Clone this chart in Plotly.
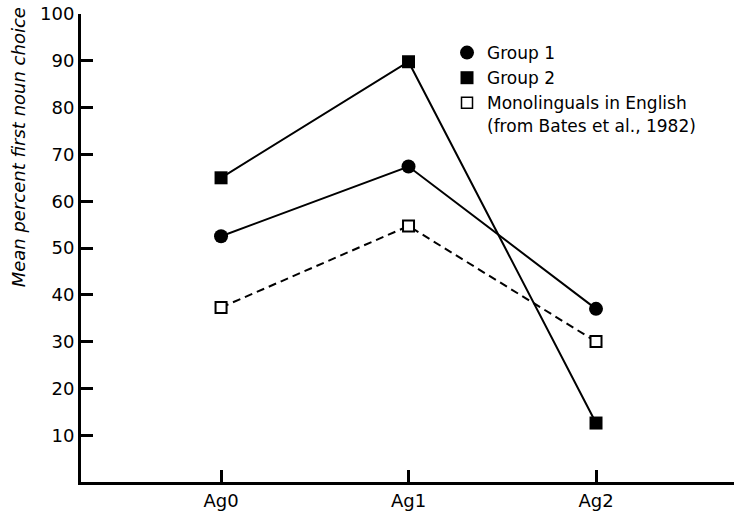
import plotly.graph_objects as go

categories = ["Ag0", "Ag1", "Ag2"]
group1 = [52.5, 67.4, 37.0]
group2 = [65.0, 89.8, 12.6]
mono = [37.3, 54.7, 30.0]
y_ticks = [10, 20, 30, 40, 50, 60, 70, 80, 90, 100]

FONT = "DejaVu Sans, Arial, Helvetica, sans-serif"
xpos = list(range(len(categories)))

fig = go.Figure()

fig.add_trace(go.Scatter(
    x=xpos, y=mono, mode="lines+markers", showlegend=False,
    line=dict(color="black", width=2, dash="8px,5px"),
    marker=dict(symbol="square", size=11, color="white", line=dict(color="black", width=2)),
))
fig.add_trace(go.Scatter(
    x=xpos, y=group1, mode="lines+markers", showlegend=False,
    line=dict(color="black", width=2),
    marker=dict(symbol="circle", size=14, color="black"),
))
fig.add_trace(go.Scatter(
    x=xpos, y=group2, mode="lines+markers", showlegend=False,
    line=dict(color="black", width=2),
    marker=dict(symbol="square", size=13, color="black"),
))

# legend-only entries (markers only)
fig.add_trace(go.Scatter(x=[None], y=[None], mode="markers", name="Group 1",
                         marker=dict(symbol="circle", size=14, color="black")))
fig.add_trace(go.Scatter(x=[None], y=[None], mode="markers", name="Group 2",
                         marker=dict(symbol="square", size=13, color="black")))
fig.add_trace(go.Scatter(x=[None], y=[None], mode="markers",
                         name="Monolinguals in English<br>(from Bates et al., 1982)",
                         marker=dict(symbol="square", size=11, color="white",
                                     line=dict(color="black", width=1.5))))

fig.update_layout(
    width=734, height=513,
    margin=dict(l=81, r=0, t=14, b=31),
    paper_bgcolor="white", plot_bgcolor="white",
    font=dict(family=FONT, size=18, color="black"),
    legend=dict(x=0.5605, y=0.955, xanchor="left", yanchor="top",
                bgcolor="rgba(0,0,0,0)", font=dict(size=17), itemwidth=30,
                valign="top", tracegroupgap=0),
    annotations=[dict(
        text="<i>Mean percent first noun choice</i>", textangle=-90,
        xref="paper", yref="paper", x=-0.0965, y=0.715,
        xanchor="center", yanchor="middle", showarrow=False,
        font=dict(size=18, family=FONT),
    )],
)

fig.update_xaxes(
    range=[-0.747, 2.736], tickvals=xpos, ticktext=categories,
    showgrid=False, zeroline=False, showline=True, linecolor="black", linewidth=3,
    ticks="inside", ticklen=12, tickwidth=3, tickcolor="black",
)
fig.update_yaxes(
    range=[0, 100], tickvals=y_ticks,
    showgrid=False, zeroline=False, showline=True, linecolor="black", linewidth=3,
    ticks="inside", ticklen=12, tickwidth=3, tickcolor="black",
    ticklabeloverflow="allow",
)

fig.write_html(
    "out.html",
    config={"displayModeBar": False},
    post_script="document.body.style.margin='0';document.body.style.padding='0';",
)
